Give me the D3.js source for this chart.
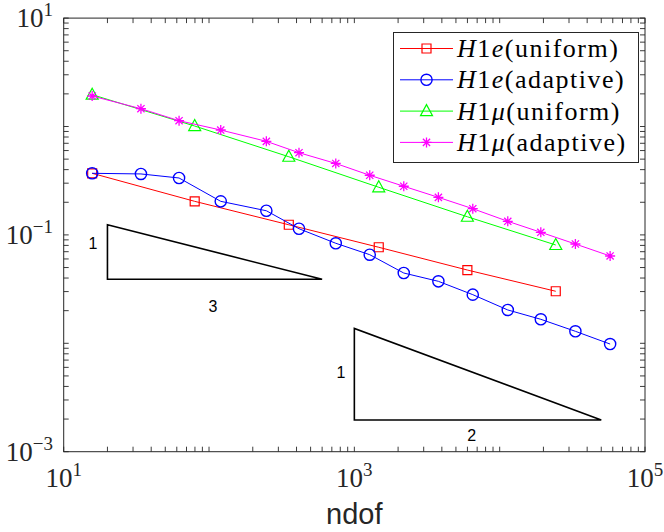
<!DOCTYPE html>
<html>
<head>
<meta charset="utf-8">
<script src="https://cdn.jsdelivr.net/npm/d3@7"></script>
<style>
  html, body { margin: 0; padding: 0; background: #fff; }
  svg { display: block; }
</style>
</head>
<body>
<svg id="chart" width="664" height="532"></svg>
<script>
// ---------- data ----------
const ndofUniform  = [15.7, 79.7, 354, 1472, 5994, 24320];
const ndofAdaptive = [15.7, 34, 62.2, 120.4, 248, 416, 745, 1276, 2188, 3787, 6531, 11370, 19190, 33190, 57540];
const h1eUniform   = [0.370, 0.204, 0.124, 0.0769, 0.0474, 0.0302];
const h1eAdaptive  = [0.370, 0.365, 0.335, 0.204, 0.167, 0.114, 0.0837, 0.0657, 0.0445, 0.0373, 0.0281, 0.0203, 0.01665, 0.0129, 0.00984];
const h1muUniform  = [1.965, 1.01, 0.526, 0.275, 0.147, 0.0807];
const h1muAdaptive = [1.911, 1.459, 1.131, 0.928, 0.730, 0.573, 0.456, 0.355, 0.281, 0.222, 0.1745, 0.1335, 0.1057, 0.0824, 0.0639];

const seriesNames  = [["H","1","e","(uniform)"], ["H","1","e","(adaptive)"], ["H","1","μ","(uniform)"], ["H","1","μ","(adaptive)"]];
const xTickLabels  = [[10, "1"], [1000, "3"], [100000, "5"]];
const yTickLabels  = [[10, "1"], [0.1, "−1"], [0.001, "−3"]];
const xLabel = "ndof";

// slope triangles (data coordinates) and their labels
const slopeTri1 = [[20, 0.039], [20, 0.124], [600, 0.039]];
const slopeTri2 = [[1000, 0.00196], [1000, 0.0137], [50000, 0.00196]];
const slopeLabels = [[15.9, 0.0842, "1"], [106.5, 0.0221, "3"], [809, 0.00543, "1"], [6427, 0.0014, "2"]];

// ---------- layout ----------
const L = 63.7, R = 645, T = 18.1, B = 451.7;
const svg = d3.select("#chart");
const x = d3.scaleLog().domain([10, 1e5]).range([L, R]);
const y = d3.scaleLog().domain([1e-3, 10]).range([B, T]);
const axisColor = "#262626";

const series = [
  {xs: ndofUniform,  ys: h1eUniform,   color: "#ff0000", marker: "square"},
  {xs: ndofAdaptive, ys: h1eAdaptive,  color: "#0000ff", marker: "circle"},
  {xs: ndofUniform,  ys: h1muUniform,  color: "#00ff00", marker: "triangle"},
  {xs: ndofAdaptive, ys: h1muAdaptive, color: "#ff00ff", marker: "star"}
];

function markerPath(type) {
  if (type === "square") return "M-4.5,-4.5H4.5V4.5H-4.5Z";
  if (type === "triangle") return "M0,-6.5L6,4.5H-6Z";
  if (type === "star") return "M-5,0H5M0,-5V5M-3.6,-3.6L3.6,3.6M-3.6,3.6L3.6,-3.6";
}
function drawMarker(g, type, color) {
  if (type === "circle") {
    g.append("circle").attr("r", 5.6).attr("fill", "none").attr("stroke", color).attr("stroke-width", 1.4);
  } else {
    g.append("path").attr("d", markerPath(type)).attr("fill", "none").attr("stroke", color)
      .attr("stroke-width", type === "star" ? 1.3 : 1.2).attr("stroke-linejoin", "miter");
  }
}

// plot background
svg.append("rect").attr("x", L).attr("y", T).attr("width", R - L).attr("height", B - T).attr("fill", "#fff");

// ticks
const xTicks = [], yTicks = [];
for (let e = 1; e < 5; e++) for (let m = 1; m < 10; m++) xTicks.push(m * Math.pow(10, e));
xTicks.push(1e5);
for (let e = -3; e < 1; e++) for (let m = 1; m < 10; m++) yTicks.push(m * Math.pow(10, e));
yTicks.push(10);
const tl = 5;
const tickG = svg.append("g").attr("stroke", axisColor).attr("stroke-width", 0.9);
xTicks.forEach(v => {
  const px = x(v);
  tickG.append("line").attr("x1", px).attr("x2", px).attr("y1", B).attr("y2", B - tl);
  tickG.append("line").attr("x1", px).attr("x2", px).attr("y1", T).attr("y2", T + tl);
});
yTicks.forEach(v => {
  const py = y(v);
  tickG.append("line").attr("x1", L).attr("x2", L + tl).attr("y1", py).attr("y2", py);
  tickG.append("line").attr("x1", R).attr("x2", R - tl).attr("y1", py).attr("y2", py);
});

// slope triangles
const triLine = d3.line().x(d => x(d[0])).y(d => y(d[1]));
[slopeTri1, slopeTri2].forEach(t => {
  svg.append("path").attr("d", triLine(t) + "Z").attr("fill", "none")
    .attr("stroke", "#000").attr("stroke-width", 1.6).attr("stroke-linejoin", "miter");
});
slopeLabels.forEach(d => {
  svg.append("text").attr("x", x(d[0])).attr("y", y(d[1])).attr("dy", "0.35em")
    .attr("text-anchor", "middle").attr("font-family", "Liberation Sans, Arial, sans-serif")
    .attr("font-size", 16).attr("fill", "#000").text(d[2]);
});

// series
const line = d3.line().x(d => x(d[0])).y(d => y(d[1]));
series.forEach(s => {
  const pts = s.xs.map((v, i) => [v, s.ys[i]]);
  svg.append("path").attr("d", line(pts)).attr("fill", "none").attr("stroke", s.color).attr("stroke-width", 1);
  pts.forEach(p => {
    const g = svg.append("g").attr("transform", `translate(${x(p[0])},${y(p[1])})`);
    drawMarker(g, s.marker, s.color);
  });
});

// axes box
svg.append("rect").attr("x", L).attr("y", T).attr("width", R - L).attr("height", B - T)
  .attr("fill", "none").attr("stroke", axisColor).attr("stroke-width", 1);

// tick labels
const serif = "Liberation Serif, Times New Roman, serif";
xTickLabels.forEach(d => {
  const t = svg.append("text").attr("x", x(d[0])).attr("y", 487).attr("text-anchor", "middle")
    .attr("font-family", serif).attr("font-size", 27).attr("fill", axisColor);
  t.append("tspan").text("10");
  t.append("tspan").attr("dy", -11).attr("font-size", 19).text(d[1]);
});
yTickLabels.forEach(d => {
  const t = svg.append("text").attr("x", 53).attr("y", y(d[0]) + 9).attr("text-anchor", "end")
    .attr("font-family", serif).attr("font-size", 27).attr("fill", axisColor);
  t.append("tspan").text("10");
  t.append("tspan").attr("dy", -11).attr("font-size", 19).text(d[1]);
});

// x label
svg.append("text").attr("x", (L + R) / 2).attr("y", 524).attr("text-anchor", "middle")
  .attr("font-family", "Liberation Sans, Arial, sans-serif").attr("font-size", 29).attr("fill", axisColor)
  .text(xLabel);

// legend
const lg = svg.append("g");
lg.append("rect").attr("x", 393.5).attr("y", 32.5).attr("width", 245).attr("height", 130)
  .attr("fill", "#fff").attr("stroke", axisColor).attr("stroke-width", 1);
series.forEach((s, i) => {
  const cy = 48.5 + i * 31.3;
  lg.append("line").attr("x1", 400).attr("x2", 453).attr("y1", cy).attr("y2", cy)
    .attr("stroke", s.color).attr("stroke-width", 1);
  const g = lg.append("g").attr("transform", `translate(426.5,${cy})`);
  drawMarker(g, s.marker, s.color);
  const n = seriesNames[i];
  const t = lg.append("text").attr("x", 457).attr("y", cy + 8.5)
    .attr("font-family", serif).attr("font-size", 26).attr("letter-spacing", 1.5).attr("fill", "#000");
  t.append("tspan").attr("font-style", "italic").text(n[0]);
  t.append("tspan").text(n[1]);
  t.append("tspan").attr("font-style", "italic").text(n[2]);
  t.append("tspan").text(n[3]);
});
</script>
</body>
</html>
